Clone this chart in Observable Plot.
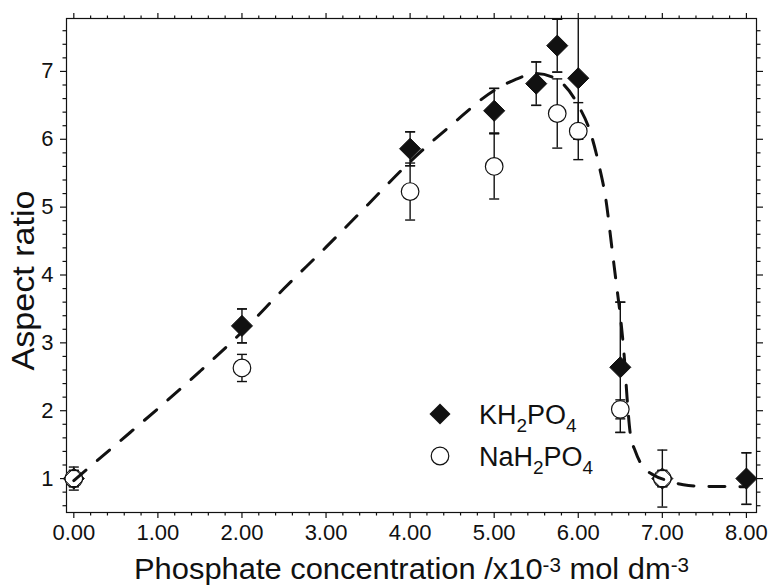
<!DOCTYPE html>
<html><head><meta charset="utf-8">
<script src="https://cdn.jsdelivr.net/npm/d3@7"></script>
<script src="https://cdn.jsdelivr.net/npm/@observablehq/plot@0.6"></script>
<style>
body{margin:0;background:#fff}
#wrap{position:relative;width:771px;height:585px}
#legend{position:absolute;left:0;top:0;pointer-events:none}
</style></head><body><div id="wrap"></div>
<script>
// KH2PO4 (filled diamonds)
const kConc  = [0, 2, 4, 5, 5.5, 5.75, 6, 6.5, 7, 8];
const kRatio = [1.0, 3.25, 5.86, 6.42, 6.82, 7.38, 6.9, 2.64, 1.0, 1.0];
const kErr   = [0.12, 0.25, 0.25, 0.33, 0.32, 0.39, 0.9, 0.96, 0.12, 0.38];
// NaH2PO4 (open circles)
const naConc  = [0, 2, 4, 5, 5.75, 6, 6.5, 7];
const naRatio = [1.0, 2.63, 5.23, 5.6, 6.38, 6.12, 2.02, 1.0];
const naErr   = [0.17, 0.2, 0.42, 0.48, 0.51, 0.42, 0.14, 0.42];
// dashed guide curve
const fitConc  = [0, 0.5, 1, 1.5, 2, 2.5, 3, 3.5, 4, 4.5, 5, 5.25, 5.5, 5.75, 6, 6.15, 6.25, 6.33, 6.4, 6.45, 6.5, 6.55, 6.58, 6.62, 6.68, 6.75, 6.9, 7.06, 7.25, 7.5, 8];
const fitRatio = [0.97, 1.5, 2.03, 2.58, 3.16, 3.8, 4.41, 5.04, 5.67, 6.22, 6.72, 6.88, 6.97, 6.88, 6.5, 6.08, 5.6, 5.1, 4.4, 3.9, 3.4, 2.75, 2.2, 1.65, 1.4, 1.21, 1.05, 0.97, 0.91, 0.885, 0.88];
// ticks and labels
const xTicks = [0, 1, 2, 3, 4, 5, 6, 7, 8];
const yTicks = [1, 2, 3, 4, 5, 6, 7];
const xMinor = d3.range(0, 41).map(i => i / 5).filter(v => v % 1 !== 0);
const yMinor = d3.range(3, 39).map(i => i / 5).filter(v => v % 1 !== 0);
const xLabelParts = ["Phosphate concentration /x10", "-3", " mol dm", "-3"];
const yLabel = "Aspect ratio";
const seriesNames = [["KH", "2", "PO", "4"], ["NaH", "2", "PO", "4"]];

const FONT = "'Liberation Sans', Arial, Helvetica, sans-serif";
const INK = "#111";
const kData = kConc.map((x, i) => ({x, y: kRatio[i], e: kErr[i]}));
const naData = naConc.map((x, i) => ({x, y: naRatio[i], e: naErr[i]}));
const fit = fitConc.map((x, i) => ({x, y: fitRatio[i]}));
const capsOf = data => data.flatMap(d => [{x: d.x, y: d.y - d.e}, {x: d.x, y: d.y + d.e}]);
const capSymbol = {draw(ctx, size) { const w = Math.sqrt(size / Math.PI); ctx.moveTo(-w, 0); ctx.lineTo(w, 0); }};
const xLabel = xLabelParts.join("");
const blank = () => "";

const plot = Plot.plot({
  width: 771, height: 585,
  marginLeft: 66, marginRight: 15, marginTop: 18, marginBottom: 73,
  x: {domain: [-0.087, 8.12]},
  y: {domain: [0.5, 7.78]},
  style: {fontFamily: FONT, fontSize: "22px", color: INK, background: "#fff"},
  marks: [
    Plot.axisX(xMinor, {tickSize: 3.5, tickFormat: blank, label: null, strokeWidth: 1.2}),
    Plot.axisX(xMinor, {anchor: "top", tickSize: 3.5, tickFormat: blank, label: null, strokeWidth: 1.2}),
    Plot.axisX(xTicks, {tickSize: 6, tickPadding: 6, tickFormat: d3.format(".2f"), label: null, strokeWidth: 1.2}),
    Plot.axisX(xTicks, {anchor: "top", tickSize: 6, tickFormat: blank, label: null, strokeWidth: 1.2}),
    Plot.axisY(yMinor, {tickSize: 3.5, tickFormat: blank, label: null, strokeWidth: 1.2}),
    Plot.axisY(yMinor, {anchor: "right", tickSize: 3.5, tickFormat: blank, label: null, strokeWidth: 1.2}),
    Plot.axisY(yTicks, {tickSize: 6, tickPadding: 7, tickFormat: d3.format("d"), label: null, strokeWidth: 1.2}),
    Plot.axisY(yTicks, {anchor: "right", tickSize: 6, tickFormat: blank, label: null, strokeWidth: 1.2}),
    Plot.frame({stroke: INK, strokeWidth: 1.2}),
    Plot.ruleX(kData, {x: "x", y1: d => d.y - d.e, y2: d => d.y + d.e, stroke: INK, strokeWidth: 1.4, clip: true}),
    Plot.ruleX(naData, {x: "x", y1: d => d.y - d.e, y2: d => d.y + d.e, stroke: INK, strokeWidth: 1.4, clip: true}),
    Plot.dot(capsOf(naData), {x: "x", y: "y", symbol: capSymbol, r: 5, stroke: INK, strokeWidth: 1.4, fill: "none", clip: true}),
    Plot.dot(capsOf(kData), {x: "x", y: "y", symbol: capSymbol, r: 5, stroke: INK, strokeWidth: 1.4, fill: "none", clip: true}),
    Plot.dot(kData, {x: "x", y: "y", symbol: "diamond2", r: 9.5, fill: INK, stroke: "none"}),
    Plot.dot(naData, {x: "x", y: "y", symbol: "circle", r: 8.8, fill: "#fff", stroke: INK, strokeWidth: 1.2}),
    Plot.dot(capsOf(kData), {x: "x", y: "y", symbol: capSymbol, r: 5, stroke: INK, strokeWidth: 1.4, fill: "none", clip: true}),
    Plot.dot(kData, {x: "x", y: "y", symbol: "diamond2", r: 9.5, fill: "none", stroke: INK, strokeWidth: 1}),
    Plot.line(fit, {x: "x", y: "y", curve: "monotone-x", stroke: INK, strokeWidth: 3, strokeDasharray: "16,15"}),
    Plot.text([xLabel], {frameAnchor: "bottom", dy: 66, lineAnchor: "bottom", fontSize: 30, fill: INK}),
    Plot.text([yLabel], {frameAnchor: "left", rotate: -90, dx: -33, dy: 15, lineAnchor: "bottom", textAnchor: "middle", fontSize: 31, fill: INK})
  ]
});

// superscripts in the x-axis title, and title lengths
const NS = "http://www.w3.org/2000/svg";
for (const t of plot.querySelectorAll("text")) {
  if (t.textContent === xLabel) {
    t.textContent = "";
    xLabelParts.forEach((p, i) => {
      const s = document.createElementNS(NS, "tspan");
      s.textContent = p;
      if (i % 2 === 1) { s.setAttribute("dy", "-7"); s.setAttribute("font-size", "20"); }
      else if (i > 0) { s.setAttribute("dy", "7"); }
      t.appendChild(s);
    });
    t.setAttribute("text-anchor", "middle");
    t.setAttribute("textLength", "555");
    t.setAttribute("lengthAdjust", "spacingAndGlyphs");
  } else if (t.textContent === yLabel) {
    t.setAttribute("text-anchor", "middle");
    t.setAttribute("textLength", "180");
    t.setAttribute("lengthAdjust", "spacingAndGlyphs");
  }
}

const wrap = document.getElementById("wrap");
wrap.appendChild(plot);

// in-plot legend
const leg = d3.select(wrap).append("svg").attr("id", "legend").attr("width", 771).attr("height", 585)
  .style("font-family", FONT);
const rows = [{sym: d3.symbolDiamond2, r: 9.5, fill: INK, cy: 414}, {sym: d3.symbolCircle, r: 8.8, fill: "#fff", cy: 456}];
rows.forEach((row, i) => {
  leg.append("path").attr("transform", `translate(440,${row.cy})`)
    .attr("d", d3.symbol(row.sym, row.r * row.r * Math.PI)())
    .attr("fill", row.fill).attr("stroke", i ? INK : "none").attr("stroke-width", 1.2);
  const tx = leg.append("text").attr("x", 479).attr("y", row.cy + 10).attr("font-size", 27).attr("fill", INK);
  seriesNames[i].forEach((p, j) => {
    const s = tx.append("tspan").text(p);
    if (j % 2 === 1) s.attr("dy", 7.5).attr("font-size", 19);
    else if (j > 0) s.attr("dy", -7.5);
  });
});
</script></body></html>
